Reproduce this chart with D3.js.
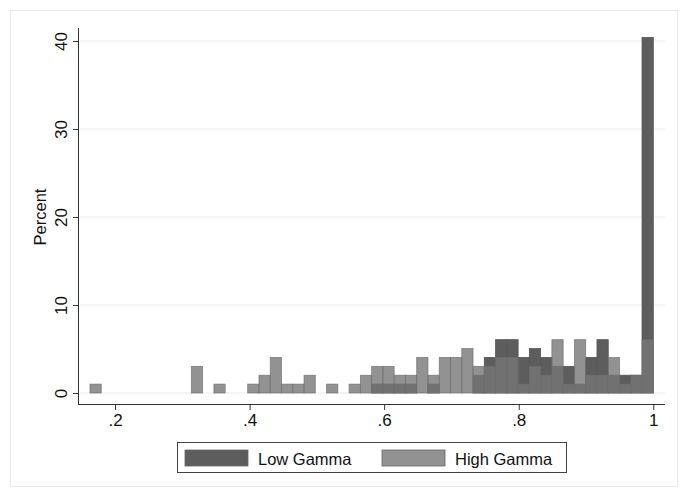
<!DOCTYPE html>
<html><head><meta charset="utf-8">
<script src="https://cdn.jsdelivr.net/npm/d3@7"></script>
<style>body{margin:0;background:#fff;} svg{display:block;font-family:"Liberation Sans",Arial,Helvetica,sans-serif;}</style>
</head><body>
<script>
// Histogram bins: 50 bins from binMin to 1
const binMin = 0.1628;
const binWidth = 0.016744;
// Percent per bin (bin index 0..49)
const lowGamma = [0,0,0,0,0,0,0,0,0,0, 0,0,0,0,0,0,0,0,0,0,
  0,0,0,0,0,1.01,1.01,1.01,1.01,0, 1.01,0,0,0,2.02,4.04,6.06,6.06,4.04,5.05,
  4.04,3.03,3.03,1.01,4.04,6.06,2.02,2.02,2.02,40.4];
const highGamma = [1.01,0,0,0,0,0,0,0,0,3.03, 0,1.01,0,0,1.01,2.02,4.04,1.01,1.01,2.02,
  0,1.01,0,1.01,2.02,3.03,3.03,2.02,2.02,4.04, 2.02,4.04,4.04,5.05,3.03,3.03,4.04,4.04,1.01,3.03,
  2.02,6.06,1.01,6.06,2.02,2.02,4.04,1.01,2.02,6.06];
const xTicks = [0.2,0.4,0.6,0.8,1];
const xTickLabels = [".2",".4",".6",".8","1"];
const yTicks = [0,10,20,30,40];
const seriesNames = ["Low Gamma","High Gamma"];

const W=683,H=492;
const svg=d3.select("body").append("svg").attr("width",W).attr("height",H);
svg.append("rect").attr("x",10.5).attr("y",10.5).attr("width",667).attr("height",476)
  .attr("fill","#fff").attr("stroke","#e6ecef");

const x=d3.scaleLinear().domain([0.2,1]).range([115,653.3]);
const y=d3.scaleLinear().domain([0,40]).range([393,41]);

// gridlines
svg.append("g").selectAll("line").data(yTicks).join("line")
  .attr("x1",80).attr("x2",665).attr("y1",d=>y(d)).attr("y2",d=>y(d))
  .attr("stroke","#eaeaea").attr("stroke-width",1);

const bins=d3.range(lowGamma.length).map(i=>({x0:binMin+i*binWidth,x1:binMin+(i+1)*binWidth,lo:lowGamma[i],hi:highGamma[i]}));

svg.append("g").selectAll("rect").data(bins.filter(b=>b.lo>0)).join("rect")
  .attr("x",b=>x(b.x0)).attr("width",b=>x(b.x1)-x(b.x0))
  .attr("y",b=>y(b.lo)).attr("height",b=>y(0)-y(b.lo))
  .attr("fill","#5d5d5d").attr("stroke","#555").attr("stroke-width",0.8);

svg.append("g").selectAll("rect").data(bins.filter(b=>b.hi>0)).join("rect")
  .attr("x",b=>x(b.x0)).attr("width",b=>x(b.x1)-x(b.x0))
  .attr("y",b=>y(b.hi)).attr("height",b=>y(0)-y(b.hi))
  .attr("fill","#777").attr("fill-opacity",0.8).attr("stroke","#6e6e6e").attr("stroke-opacity",0.8).attr("stroke-width",0.8);

// axes
const xAxis=d3.axisBottom(x).tickValues(xTicks).tickFormat((d,i)=>xTickLabels[i]).tickSize(6).tickPadding(4);
const gx=svg.append("g").attr("transform","translate(0,404)").call(xAxis);
gx.select(".domain").attr("d","M78,0.5H665").attr("stroke","#333");
gx.selectAll(".tick line").attr("stroke","#333");
gx.selectAll("text").attr("font-size",17).attr("fill","#111").attr("font-family","Liberation Sans,Arial,sans-serif");

const yAxis=d3.axisLeft(y).tickValues(yTicks).tickSize(5).tickPadding(4);
const gy=svg.append("g").attr("transform","translate(78,0)").call(yAxis);
gy.select(".domain").attr("d","M0.5,28V404").attr("stroke","#333");
gy.selectAll(".tick line").attr("stroke","#333");
gy.selectAll("text").attr("font-size",17).attr("fill","#111").attr("font-family","Liberation Sans,Arial,sans-serif")
  .attr("text-anchor","middle").attr("x",0).attr("y",-11).attr("dy","0").attr("transform","rotate(-90)");

svg.append("text").attr("transform","translate(46,217) rotate(-90)").attr("text-anchor","middle")
  .attr("font-size",16.5).attr("fill","#111").text("Percent");

// legend
const lg=svg.append("g");
lg.append("rect").attr("x",177.5).attr("y",442.5).attr("width",389).attr("height",30).attr("fill","#fff").attr("stroke","#444");
const items=[{x:185,name:seriesNames[0],fill:"#5d5d5d",op:1},{x:382,name:seriesNames[1],fill:"#777",op:0.8}];
items.forEach(it=>{
  lg.append("rect").attr("x",it.x).attr("y",450).attr("width",63).attr("height",16).attr("fill",it.fill).attr("fill-opacity",it.op).attr("stroke","#666").attr("stroke-width",0.8);
  lg.append("text").attr("x",it.x+73).attr("y",464.5).attr("font-size",16.5).attr("fill","#111").text(it.name);
});
</script>
</body></html>
